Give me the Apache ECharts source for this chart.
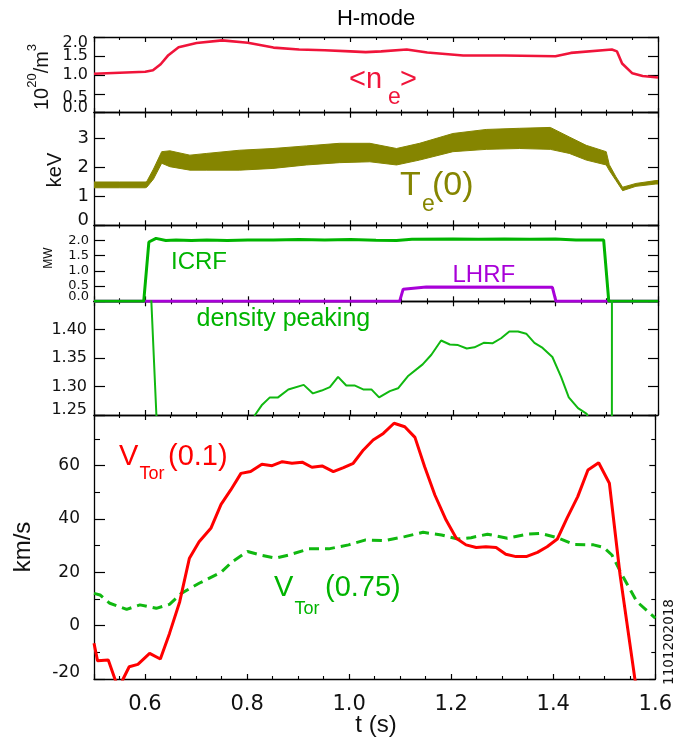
<!DOCTYPE html>
<html lang="en">
<head>
<meta charset="UTF-8">
<title>H-mode</title>
<script src="https://cdn.jsdelivr.net/npm/echarts@6/dist/echarts.min.js"></script>
<style>
    html, body { margin: 0; padding: 0; background: #fff; }
    #chart { width: 675px; height: 747px; }
</style>
</head>
<body>
<div id="chart"></div>
<script type="text/javascript">
// line-averaged density <ne> (10^20/m^3)
var neT = [0.50, 0.60, 0.615, 0.63, 0.645, 0.665, 0.70, 0.75, 0.80, 0.85, 0.90, 0.95, 1.00, 1.03, 1.06, 1.11, 1.15, 1.22, 1.30, 1.40, 1.43, 1.51, 1.52, 1.53, 1.55, 1.57, 1.60];
var neV = [1.03, 1.08, 1.12, 1.28, 1.52, 1.73, 1.84, 1.91, 1.85, 1.72, 1.67, 1.65, 1.62, 1.60, 1.62, 1.67, 1.59, 1.51, 1.51, 1.49, 1.58, 1.67, 1.62, 1.30, 1.04, 0.97, 0.93];

// Te(0) keV, sawtooth band: upper and lower envelope
var teT  = [0.50, 0.55, 0.60, 0.603, 0.616, 0.632, 0.648, 0.687, 0.72, 0.784, 0.849, 0.914, 0.979, 1.038, 1.09, 1.135, 1.20, 1.265, 1.33, 1.39, 1.427, 1.46, 1.499, 1.505, 1.518, 1.531, 1.557, 1.596, 1.60];
var teHi = [1.50, 1.50, 1.50, 1.52, 1.95, 2.55, 2.58, 2.43, 2.49, 2.60, 2.66, 2.75, 2.84, 2.84, 2.66, 2.84, 3.18, 3.32, 3.36, 3.39, 3.06, 2.77, 2.55, 2.10, 1.68, 1.32, 1.45, 1.55, 1.55];
var teLo = [1.30, 1.30, 1.30, 1.32, 1.60, 2.15, 2.03, 1.91, 1.91, 1.91, 1.97, 2.09, 2.17, 2.20, 2.09, 2.26, 2.55, 2.63, 2.66, 2.63, 2.49, 2.26, 2.09, 1.90, 1.55, 1.20, 1.35, 1.43, 1.43];

// RF power (MW)
var icrfT = [0.50, 0.597, 0.607, 0.621, 0.64, 0.66, 0.69, 0.72, 0.76, 0.80, 0.85, 0.90, 0.95, 1.00, 1.05, 1.09, 1.12, 1.20, 1.25, 1.30, 1.35, 1.40, 1.44, 1.494, 1.504, 1.60];
var icrfV = [0.00, 0.00, 1.95, 2.07, 2.00, 2.02, 2.00, 2.02, 2.00, 2.02, 2.02, 2.03, 2.02, 2.03, 2.01, 2.00, 2.04, 2.05, 2.04, 2.05, 2.04, 2.05, 2.02, 2.02, 0.00, 0.00];
var lhrfT = [0.50, 1.096, 1.103, 1.148, 1.394, 1.401, 1.60];
var lhrfV = [0.00, 0.00, 0.40, 0.47, 0.46, 0.00, 0.00];

// density peaking
var peakT = [0.605, 0.63, 0.70, 0.78, 0.814, 0.827, 0.843, 0.859, 0.879, 0.909, 0.927, 0.944, 0.96, 0.976, 0.992, 1.008, 1.025, 1.041, 1.056, 1.077, 1.093, 1.112, 1.141, 1.158, 1.177, 1.194, 1.21, 1.227, 1.242, 1.26, 1.277, 1.294, 1.31, 1.327, 1.343, 1.359, 1.375, 1.394, 1.411, 1.426, 1.444, 1.461, 1.48, 1.51, 1.5105];
var peakV = [1.59, 1.08, 1.05, 1.15, 1.250, 1.267, 1.281, 1.281, 1.295, 1.303, 1.288, 1.293, 1.299, 1.317, 1.302, 1.302, 1.295, 1.295, 1.281, 1.292, 1.297, 1.318, 1.339, 1.356, 1.381, 1.374, 1.373, 1.367, 1.369, 1.377, 1.376, 1.385, 1.397, 1.397, 1.393, 1.377, 1.368, 1.352, 1.317, 1.281, 1.262, 1.252, 1.20, 1.00, 2.50];

// toroidal rotation (km/s)
var v1T = [0.50, 0.507, 0.528, 0.541, 0.549, 0.557, 0.569, 0.586, 0.609, 0.63, 0.648, 0.668, 0.687, 0.706, 0.729, 0.749, 0.768, 0.788, 0.807, 0.829, 0.849, 0.869, 0.888, 0.908, 0.927, 0.947, 0.969, 0.989, 1.008, 1.028, 1.047, 1.067, 1.088, 1.109, 1.129, 1.148, 1.168, 1.19, 1.21, 1.229, 1.249, 1.268, 1.288, 1.307, 1.327, 1.347, 1.369, 1.388, 1.408, 1.427, 1.448, 1.468, 1.489, 1.51, 1.531, 1.56, 1.575];
var v1V = [-6.6, -13.2, -12.9, -20.0, -24.0, -20.0, -15.4, -14.5, -10.4, -12.5, -2.9, 9.0, 25.3, 31.5, 36.5, 45.5, 50.9, 57.1, 57.8, 60.5, 60.0, 61.5, 60.9, 61.3, 59.4, 59.9, 57.8, 59.3, 60.9, 65.9, 69.6, 72.1, 75.9, 74.6, 70.6, 59.6, 49.0, 39.6, 32.8, 30.3, 29.3, 29.6, 29.3, 26.8, 25.9, 25.9, 27.5, 29.6, 32.5, 40.3, 48.4, 58.4, 61.1, 53.4, 19.0, -20.0, -32.0];
var v75T = [0.50, 0.512, 0.531, 0.564, 0.59, 0.622, 0.648, 0.671, 0.706, 0.749, 0.771, 0.801, 0.83, 0.856, 0.882, 0.921, 0.96, 0.999, 1.031, 1.07, 1.109, 1.145, 1.181, 1.213, 1.239, 1.271, 1.31, 1.349, 1.375, 1.408, 1.44, 1.479, 1.499, 1.515, 1.535, 1.564, 1.60];
var v75V = [12.1, 11.5, 8.4, 6.1, 7.8, 6.5, 8.0, 12.1, 15.9, 20.0, 24.0, 27.8, 26.3, 25.3, 26.5, 28.8, 28.8, 30.3, 32.1, 31.9, 33.4, 35.0, 34.0, 32.5, 33.0, 34.3, 32.8, 34.3, 34.6, 33.0, 30.5, 30.3, 29.3, 26.5, 19.0, 9.0, 2.8];

function pairs(t, v) {
    var out = [];
    for (var i = 0; i < t.length; i++) out.push([t[i], v[i]]);
    return out;
}

var TICKFONT = 'DejaVu Sans';
var TEXTFONT = 'Liberation Sans, Arial, sans-serif';

// panel layout: [top, height] in px
var panels = [[37, 75.7], [112.7, 112.6], [225.3, 76], [301.3, 113.7], [415, 264]];
var yMin = [0, 0, 0, 1.25, -20];
var yMax = [2.0, 3.9, 2.5, 1.45, 79];
var yStep = [0.5, 1, 0.5, 0.05, 20];

function near(a, b) { return Math.abs(a - b) < 1e-6; }
function isHalf(v) { return near(v, 0.5) || near(v, 1.5); }

// panels 1 and 3 have crowded labels: the .5 ones go on a second label-only axis
var yFormat = [
    function (v) {
        if (isHalf(v)) return '';
        if (near(v, 0)) return '{up|0.0}';
        if (near(v, 2)) return '{dn2|2.0}';
        return v.toFixed(1);
    },
    function (v) {
        if (near(v, 0)) return '{up|0}';
        if (v > 3.5) return '';
        return String(Math.round(v));
    },
    function (v) {
        if (isHalf(v)) return '';
        if (near(v, 0)) return '{up|0.0}';
        if (v > 2.2) return '';
        return v.toFixed(1);
    },
    function (v) {
        if (near(v, 1.25)) return '{up|1.25}';
        if (v > 1.44) return '';
        return v.toFixed(2);
    },
    function (v) {
        if (near(v, -20)) return '{up2|-20}';
        if (v > 70) return '';
        return String(Math.round(v));
    }
];
var halfFormat = [
    function (v) {
        if (near(v, 0.5)) return '{dn|0.5}';
        if (near(v, 1.5)) return '1.5';
        return '';
    },
    function (v) {
        if (near(v, 0.5)) return '0.5';
        if (near(v, 1.5)) return '1.5';
        return '';
    }
];
var yFontSize = [16, 18, 13, 16, 17];
var yMargin = [6, 5, 5, 7, 14];

var labelRich = {
    up: { padding: [0, 0, 10, 0] },
    up2: { padding: [0, 0, 12, 0] },
    dn: { padding: [8, 0, 0, 0] },
    dn2: { padding: [12, 0, 0, 0] }
};

var grids = [], xAxes = [], yAxes = [];
for (var i = 0; i < 5; i++) {
    grids.push({ left: 94, right: 17, top: panels[i][0], height: panels[i][1], containLabel: false });
    var last = (i === 4);
    ['bottom', 'top'].forEach(function (pos) {
        xAxes.push({
            type: 'value', gridIndex: i, position: pos, min: 0.5, max: 1.6,
            axisLine: { show: true, onZero: false, lineStyle: { color: '#000', width: 1.3 } },
            axisTick: { show: true, inside: true, length: 5, lineStyle: { color: '#000', width: 1.2 } },
            minorTick: { show: true, splitNumber: 4, length: 3, lineStyle: { color: '#000', width: 1.1 } },
            splitLine: { show: false },
            axisLabel: {
                show: last && pos === 'bottom', margin: 15, showMinLabel: false,
                fontFamily: TICKFONT, fontSize: 21, color: '#111',
                formatter: function (v) { return v.toFixed(1); }
            }
        });
    });
    ['left', 'right'].forEach(function (pos) {
        var left = pos === 'left';
        yAxes.push({
            type: 'value', gridIndex: i, position: pos,
            min: yMin[i], max: yMax[i], interval: yStep[i],
            axisLine: { show: true, onZero: false, lineStyle: { color: '#000', width: 1.3 } },
            axisTick: { show: true, inside: true, length: (last && !left) ? 6 : (left ? 11 : 10), lineStyle: { color: '#000', width: 1.2 } },
            minorTick: { show: last, splitNumber: 2, length: left ? 6 : 4, lineStyle: { color: '#000', width: 1.1 } },
            splitLine: { show: false },
            axisLabel: {
                show: left, margin: yMargin[i], fontFamily: TICKFONT, fontSize: yFontSize[i], color: '#111',
                showMinLabel: true, showMaxLabel: true,
                formatter: yFormat[i], rich: labelRich
            }
        });
    });
}
// label-only axes for the .5 values of panels 1 and 3
[0, 2].forEach(function (p, n) {
    yAxes.push({
        type: 'value', gridIndex: p, position: 'left',
        min: yMin[p], max: yMax[p], interval: yStep[p],
        axisLine: { show: false }, axisTick: { show: false }, splitLine: { show: false },
        axisLabel: {
            show: true, margin: yMargin[p], fontFamily: TICKFONT, fontSize: yFontSize[p], color: '#111',
            showMinLabel: true, showMaxLabel: true,
            formatter: halfFormat[n], rich: labelRich
        }
    });
});

function lineSeries(t, v, k, color, width, dash) {
    return {
        type: 'line', xAxisIndex: 2 * k, yAxisIndex: 2 * k,
        data: pairs(t, v), showSymbol: false, symbol: 'none', clip: true,
        lineStyle: { color: color, width: width, type: dash || 'solid' }, z: 3
    };
}

var teBand = {
    type: 'custom', xAxisIndex: 2, yAxisIndex: 2, data: [[1.0, 2.0]],
    encode: { x: 0, y: 1 }, clip: true, z: 3,
    renderItem: function (params, api) {
        var pts = [];
        for (var j = 0; j < teT.length; j++) pts.push(api.coord([teT[j], teHi[j]]));
        for (var j2 = teT.length - 1; j2 >= 0; j2--) pts.push(api.coord([teT[j2], teLo[j2]]));
        return {
            type: 'polygon', shape: { points: pts },
            style: { fill: '#858500', stroke: '#858500', lineWidth: 1 }
        };
    }
};

function label(x, y, s, size, color, extra) {
    var el = {
        type: 'text', x: x, y: y, z: 100,
        style: { text: s, fill: color, fontSize: size, fontFamily: TEXTFONT, align: 'left', verticalAlign: 'middle' }
    };
    if (extra) {
        for (var k in extra) {
            if (k === 'style') { for (var s2 in extra.style) el.style[s2] = extra.style[s2]; }
            else el[k] = extra[k];
        }
    }
    return el;
}

var RED = '#ff0000', NE = '#f0143a', OLIVE = '#858500', GREEN = '#00b400', PURPLE = '#a800d8';

var texts = [
    label(376, 19, 'H-mode', 22, '#000', { style: { align: 'center' } }),
    label(349, 80, '<n', 29, NE),
    label(388, 98, 'e', 23, NE),
    label(400, 80, '>', 29, NE),
    label(400, 186, 'T', 34, OLIVE),
    label(422, 205, 'e', 23, OLIVE),
    label(432, 186, '(0)', 34, OLIVE),
    label(171, 262, 'ICRF', 24, GREEN),
    label(452.5, 275, 'LHRF', 24, PURPLE),
    label(196.5, 319.5, 'density peaking', 25, GREEN),
    label(119, 456.5, 'V', 29, RED),
    label(139.5, 474, 'Tor', 18, RED),
    label(168, 456.5, '(0.1)', 29, RED),
    label(274, 588, 'V', 29, GREEN),
    label(294.5, 609, 'Tor', 18, GREEN),
    label(325, 588, '(0.75)', 29, GREEN),
    label(376, 725, 't (s)', 24, '#111', { style: { align: 'center' } }),
    label(39, 77, '{m|10}{s|20}{m|/m}{s|3}', 20, '#111', {
        rotation: Math.PI / 2,
        style: {
            align: 'center',
            rich: {
                m: { fontSize: 20, fontFamily: TEXTFONT, verticalAlign: 'bottom', lineHeight: 26 },
                s: { fontSize: 13, fontFamily: TEXTFONT, verticalAlign: 'top', lineHeight: 26 }
            }
        }
    }),
    label(55, 170, 'keV', 20, '#111', { rotation: Math.PI / 2, style: { align: 'center' } }),
    label(49, 258, 'MW', 12, '#111', { rotation: Math.PI / 2, style: { align: 'center' } }),
    label(23, 547, 'km/s', 24, '#111', { rotation: Math.PI / 2, style: { align: 'center' } }),
    label(669, 642, '1101202018', 13.5, '#111', { rotation: Math.PI / 2, style: { align: 'center', fontFamily: TICKFONT } })
];

var myChart = echarts.init(document.getElementById('chart'));
var option = {
    animation: false,
    backgroundColor: '#fff',
    grid: grids,
    xAxis: xAxes,
    yAxis: yAxes,
    series: [
        lineSeries(neT, neV, 0, NE, 2.6),
        teBand,
        lineSeries(lhrfT, lhrfV, 2, PURPLE, 3),
        lineSeries(icrfT, icrfV, 2, GREEN, 3),
        lineSeries(peakT, peakV, 3, '#10b810', 2),
        lineSeries(v75T, v75V, 4, '#10b810', 3, [10, 6]),
        lineSeries(v1T, v1V, 4, RED, 3)
    ],
    graphic: texts
};
myChart.setOption(option);
</script>
</body>
</html>
